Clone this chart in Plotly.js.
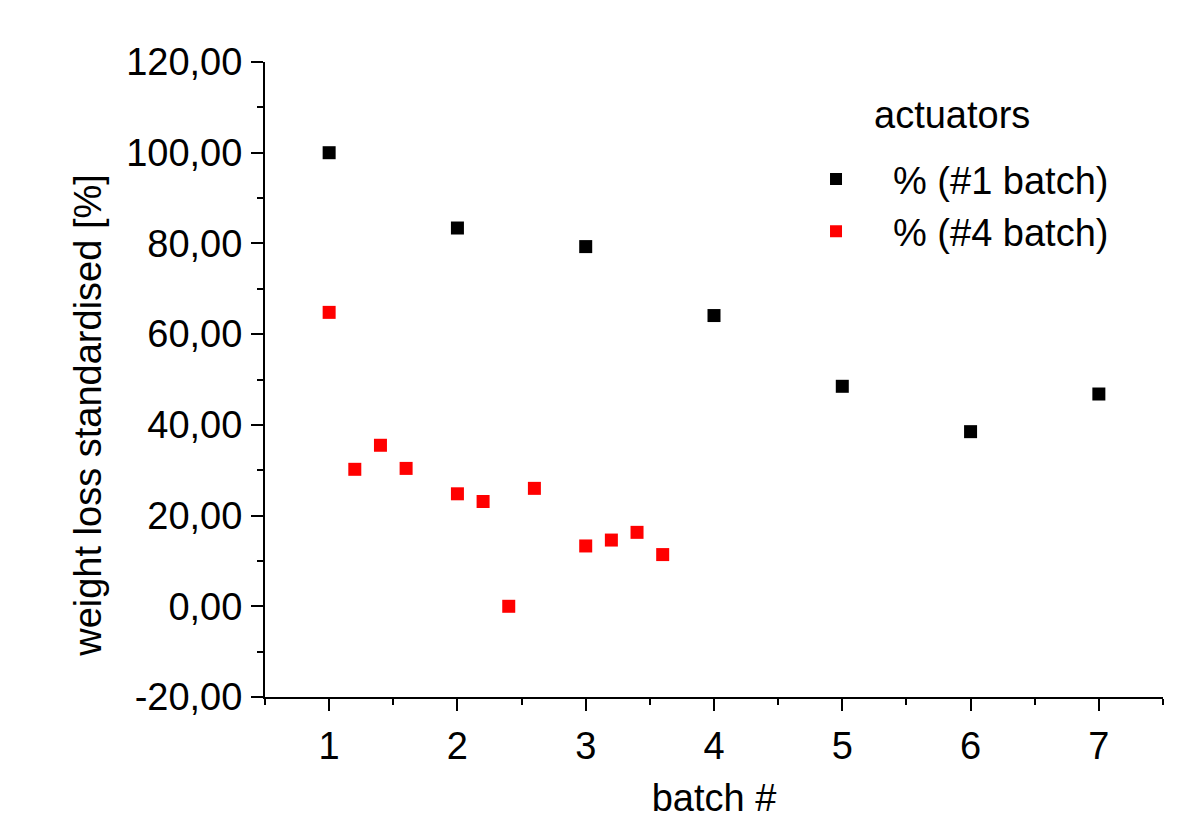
<!DOCTYPE html>
<html><head><meta charset="utf-8">
<script src="https://cdn.plot.ly/plotly-3.0.1.min.js"></script>
<style>html,body{margin:0;padding:0;background:#fff}#chart{width:1196px;height:819px}</style>
</head><body><div id="chart"></div>
<script>
const batch1X = [1, 2, 3, 4, 5, 6, 7];
const batch1Y = [100.0, 83.4, 79.3, 64.1, 48.5, 38.5, 46.8];
const batch4X = [1, 1.2, 1.4, 1.6, 2, 2.2, 2.4, 2.6, 3, 3.2, 3.4, 3.6];
const batch4Y = [64.8, 30.2, 35.5, 30.4, 24.8, 23.1, 0.0, 26.0, 13.3, 14.6, 16.3, 11.4];
const seriesNames = ["% (#1 batch)", "% (#4 batch)"];
const legendTitle = "actuators";
const xTitle = "batch #";
const yTitle = "weight loss standardised [%]";
const xTicks = [1, 2, 3, 4, 5, 6, 7];
const yTicks = [-20, 0, 20, 40, 60, 80, 100, 120];
const yTickText = yTicks.map(v => v.toFixed(2).replace(".", ","));

const FONT = "Liberation Sans, Arial, sans-serif";
const FS = 38;
const traces = [
  {x: batch1X, y: batch1Y, name: seriesNames[0], type: "scatter", mode: "markers",
   marker: {symbol: "square", size: 13, color: "#000000"}},
  {x: batch4X, y: batch4Y, name: seriesNames[1], type: "scatter", mode: "markers",
   marker: {symbol: "square", size: 13, color: "#ff0000"}}
];
const axisCommon = {
  showline: true, linecolor: "#000", linewidth: 2, mirror: false,
  ticks: "outside", ticklen: 12, tickwidth: 2, tickcolor: "#000",
  showgrid: false, zeroline: false,
  tickfont: {family: FONT, size: FS, color: "#000"}
};
const layout = {
  width: 1196, height: 819,
  margin: {l: 265, r: 33, t: 62, b: 122},
  paper_bgcolor: "#fff", plot_bgcolor: "#fff",
  font: {family: FONT, color: "#000"},
  xaxis: Object.assign({}, axisCommon, {
    range: [0.5, 7.5], tickvals: xTicks, ticklabelstandoff: 2,
    minor: {dtick: 0.5, tick0: 0.5, ticks: "outside", ticklen: 6, tickwidth: 2, tickcolor: "#000"},
    title: {text: xTitle, font: {family: FONT, size: FS, color: "#000"}, standoff: 24}
  }),
  yaxis: Object.assign({}, axisCommon, {
    range: [-20, 120], tickvals: yTicks, ticktext: yTickText, ticklabelstandoff: 1,
    minor: {dtick: 10, tick0: 0, ticks: "outside", ticklen: 6, tickwidth: 2, tickcolor: "#000"}
  }),
  annotations: [
    {text: yTitle, xref: "paper", yref: "paper", x: -0.197, y: 0.443, xanchor: "center", yanchor: "middle",
     textangle: -90, showarrow: false, font: {family: FONT, size: FS, color: "#000"}},
    {text: legendTitle, xref: "paper", yref: "paper", x: 0.676, y: 0.917, xanchor: "left", yanchor: "middle",
     showarrow: false, font: {family: FONT, size: FS, color: "#000"}}
  ],
  showlegend: true,
  legend: {
    x: 0.5724, y: 0.865, xanchor: "left", yanchor: "top",
    bgcolor: "rgba(0,0,0,0)", borderwidth: 0,
    font: {family: FONT, size: FS, color: "#000"},
    itemwidth: 104, itemsizing: "constant"
  }
};
Plotly.newPlot("chart", traces, layout, {displayModeBar: false, staticPlot: true});
</script>
</body></html>
